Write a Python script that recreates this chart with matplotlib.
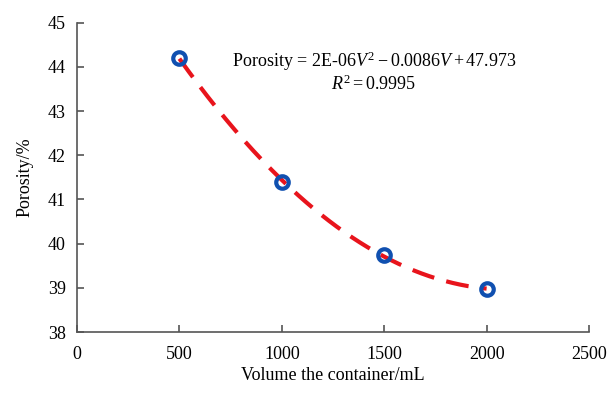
import numpy as np
import matplotlib
matplotlib.use('Agg')
import matplotlib.pyplot as plt

volume = [500, 1000, 1500, 2000]
porosity = [44.2, 41.4, 39.75, 38.97]
x_ticks = [0, 500, 1000, 1500, 2000, 2500]
y_ticks = [38, 39, 40, 41, 42, 43, 44, 45]

plt.rcParams['font.family'] = ['Liberation Serif', 'DejaVu Serif']
plt.rcParams['mathtext.fontset'] = 'custom'
plt.rcParams['mathtext.rm'] = 'Liberation Serif'
plt.rcParams['mathtext.it'] = 'Liberation Serif:italic'

fig = plt.figure(figsize=(6.11, 4.05), dpi=100)
ax = fig.add_axes([0.126, 0.180, 0.838, 0.764])

# quadratic trend line fitted to the points
coef = np.polyfit(volume, porosity, 2)
vv = np.linspace(volume[0], volume[-1], 200)
ax.plot(vv, np.polyval(coef, vv), color='#e8141c', lw=3,
        dashes=(5.5, 3), zorder=2)
ax.plot(volume, porosity, 'o', ms=9, mfc='none', mec='#1050b0', mew=3,
        zorder=3)

ax.set_xlim(0, 2500)
ax.set_ylim(38, 45)
ax.set_xticks(x_ticks)
ax.set_yticks(y_ticks)
ax.tick_params(direction='in', length=5, labelsize=13, color='#555555',
               width=1.2)
ax.tick_params(axis='x', pad=10)
ax.tick_params(axis='y', pad=8)
for s in ['top', 'right']:
    ax.spines[s].set_visible(False)
for s in ['left', 'bottom']:
    ax.spines[s].set_color('#555555')
    ax.spines[s].set_linewidth(1.2)

ax.set_xlabel('Volume the container/mL', fontsize=13, labelpad=3)
ax.set_ylabel('Porosity/%', fontsize=13, labelpad=10)

ax.text(1450, 44.13, r'Porosity$\,=\,$2E-06$V^2-$0.0086$V+$47.973',
        fontsize=13, ha='center', va='center')
ax.text(1450, 43.6, r'$R^2=$0.9995', fontsize=13, ha='center', va='center')

fig.savefig('out.png', dpi=100)
